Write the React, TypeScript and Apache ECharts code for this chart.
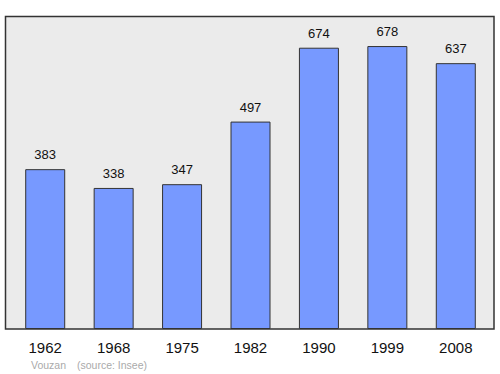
import React, { useEffect, useRef } from "react";
import * as echarts from "echarts";

const years = ["1962", "1968", "1975", "1982", "1990", "1999", "2008"];
const population = [383, 338, 347, 497, 674, 678, 637];
const placeName = "Vouzan";
const sourceText = "(source: Insee)";

export default function App() {
  const ref = useRef<HTMLDivElement>(null);
  useEffect(() => {
    document.body.style.margin = "0";
    const chart = echarts.init(ref.current!, undefined, { renderer: "svg" });
    chart.setOption({
      animation: false,
      textStyle: { fontFamily: "Liberation Sans, Arial, sans-serif" },
      grid: { left: 11, right: 10, top: 16, bottom: 45, containLabel: false },
      graphic: [
        {
          type: "rect",
          z: -10,
          silent: true,
          shape: { x: 5.5, y: 16.5, width: 488.5, height: 312.5 },
          style: { fill: "#ebebeb", stroke: "#333", lineWidth: 1.5 },
        },
        {
          type: "text",
          x: 31,
          y: 359,
          style: { text: placeName, fontSize: 10.5, fill: "#aaa", fontFamily: "Liberation Sans, Arial, sans-serif" },
        },
        {
          type: "text",
          x: 77,
          y: 359,
          style: { text: sourceText, fontSize: 10.5, fill: "#aaa", fontFamily: "Liberation Sans, Arial, sans-serif" },
        },
      ],
      xAxis: {
        type: "category",
        data: years,
        axisLine: { show: false },
        axisTick: { show: false },
        axisLabel: { fontSize: 15, color: "#111", margin: 11 },
      },
      yAxis: {
        type: "value",
        min: 0,
        max: 750,
        show: false,
        splitLine: { show: false },
      },
      series: [
        {
          type: "bar",
          data: population,
          barWidth: 40,
          itemStyle: { color: "#7799ff", borderColor: "#333", borderWidth: 1 },
          label: { show: true, position: "top", distance: 8, fontSize: 13, color: "#111" },
        },
      ],
    });
    return () => chart.dispose();
  }, []);
  return <div ref={ref} style={{ position: "absolute", left: 0, top: 0, width: 500, height: 374 }} />;
}
